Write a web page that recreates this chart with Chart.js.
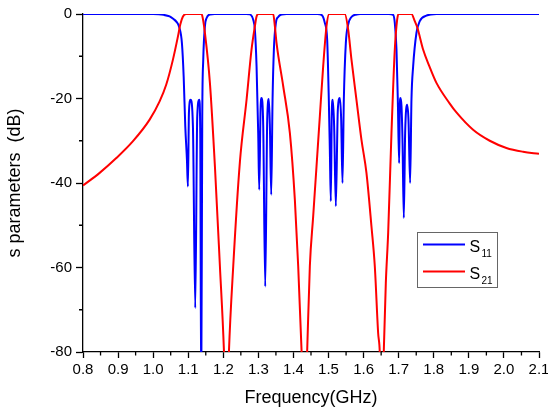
<!DOCTYPE html>
<html>
<head>
<meta charset="utf-8">
<script src="https://cdn.jsdelivr.net/npm/chart.js@4.4.0/dist/chart.umd.min.js"></script>
<style>
  html, body { margin: 0; padding: 0; background: #fff; }
  canvas { display: block; }
</style>
</head>
<body>
<canvas id="chart" width="548" height="411"></canvas>
<script>
// values: frequency in GHz, response in dB
var s11Freq = [0.80, 1.00, 1.03, 1.047, 1.058, 1.066, 1.075, 1.082, 1.087, 1.0916, 1.0963, 1.0991, 1.102, 1.1067, 1.1134, 1.1200, 1.1257, 1.1314, 1.1343, 1.137, 1.140, 1.1428, 1.1476, 1.1524, 1.1618, 1.175,
    1.265, 1.2758, 1.2853, 1.2900, 1.2948, 1.2995, 1.3024, 1.3062, 1.3090, 1.3138, 1.3195, 1.3252, 1.3299, 1.3328, 1.3366, 1.3404, 1.3442, 1.3499, 1.3565, 1.366, 1.38,
    1.468, 1.480, 1.4894, 1.4961, 1.5008, 1.5037, 1.5065, 1.5094, 1.5122, 1.516, 1.5208, 1.5265, 1.5322, 1.536, 1.5398, 1.5436, 1.5493, 1.556, 1.5654, 1.5796, 1.59,
    1.672, 1.6842, 1.6889, 1.6937, 1.6975, 1.7013, 1.7032, 1.7051, 1.708, 1.7108, 1.7146, 1.7184, 1.7241, 1.7279, 1.7326, 1.7364, 1.7412, 1.7506, 1.7601, 1.7791, 1.8076, 2.10];
var s11Db = [0, -0.02, -0.2, -0.57, -1.2, -1.8, -3.3, -6.9, -14.8, -26.6, -34.5, -40.8, -23.4, -20.3, -26.6, -69.6, -24.2, -20.3, -28.2, -92, -24.2, -10.8, -2.9, -0.95, -0.1, 0,
    0, -0.1, -1.35, -3.7, -12.4, -28.2, -41.6, -22.6, -19.9, -26.6, -64.5, -25.0, -20.1, -26.6, -42.8, -20.3, -8.4, -2.1, -0.7, -0.1, 0,
    0, -0.2, -2.1, -6.1, -20.3, -32.1, -44.3, -22.6, -20.3, -26.6, -45.5, -22.6, -19.9, -25.0, -40.0, -20.3, -6.9, -2.5, -0.7, -0.1, 0,
    0, -0.2, -2.1, -8.4, -20.3, -35.3, -21.8, -19.9, -21.8, -29.7, -48.3, -28.2, -21.5, -25.0, -40.0, -20.3, -12.4, -4.5, -1.7, -0.4, 0, 0];

var s21Freq = [0.80, 0.8475, 0.895, 0.9425, 0.99, 1.0184, 1.0374, 1.0564, 1.0707, 1.0773, 1.0849, 1.094, 1.138, 1.141, 1.1476, 1.1618, 1.1761, 1.1903, 1.2017, 1.209, 1.216, 1.2283, 1.2473, 1.2663, 1.2805, 1.29, 1.2948, 1.30,
    1.3423, 1.347, 1.3518, 1.3708, 1.3898, 1.404, 1.4135, 1.423, 1.431, 1.439, 1.4467, 1.4562, 1.4657, 1.4752, 1.4847, 1.4942, 1.5018,
    1.5464, 1.556, 1.5654, 1.5796, 1.5939, 1.6081, 1.6224, 1.6319, 1.6414, 1.646, 1.652, 1.6576, 1.6633, 1.67, 1.6794, 1.6889, 1.6956, 1.6994,
    1.7364, 1.7459, 1.7535, 1.7696, 1.7876, 1.8076, 1.8456, 1.8646, 1.9121, 1.9596, 2.007, 2.0545, 2.10];
var s21Db = [-40.6, -37.6, -34.1, -30.1, -25.0, -20.7, -16.7, -10.8, -5.3, -2.5, -0.6, 0, 0, -0.8, -4.5, -16.3, -36.1, -59.7, -79.5, -100, -80, -59.7, -35, -20.3, -8.4, -2.9, -0.6, 0,
    0, -2.9, -6.9, -17.1, -28.2, -44, -59.7, -79.5, -100, -80, -59.7, -47.9, -36.1, -24.2, -12.4, -2.9, 0,
    0, -3.7, -10.8, -20.3, -29.8, -37.6, -50.3, -59.7, -75.5, -80, -100, -79.5, -63.7, -51.8, -28.2, -8.4, -1.35, 0,
    0, -1.7, -3.3, -8.4, -12.4, -16.3, -21.2, -23.3, -27.4, -30.0, -31.7, -32.6, -33.1];

var legendMain = ['S', 'S'];
var legendSub = ['11', '21'];
var xMinorTicks = [0.85, 0.95, 1.05, 1.15, 1.25, 1.35, 1.45, 1.55, 1.65, 1.75, 1.85, 1.95, 2.05];
var yMinorTicks = [-10, -30, -50, -70];

var FONT = '"Liberation Sans", Arial, sans-serif';

function toPoints(xs, ys) {
    return xs.map(function(x, i) { return {x: x, y: ys[i]}; });
}

// minor tick marks and the boxed legend with subscripts
var extras = {
    id: 'extras',
    afterDraw: function(chart) {
        var ctx = chart.ctx;
        var xs = chart.scales.x, ys = chart.scales.y;
        ctx.save();
        ctx.strokeStyle = '#000';
        ctx.lineWidth = 1.3;
        ctx.beginPath();
        xMinorTicks.forEach(function(v) {
            var px = xs.getPixelForValue(v);
            ctx.moveTo(px, xs.top);
            ctx.lineTo(px, xs.top + 3.5);
        });
        yMinorTicks.forEach(function(v) {
            var py = ys.getPixelForValue(v);
            ctx.moveTo(ys.right, py);
            ctx.lineTo(ys.right - 4, py);
        });
        ctx.stroke();

        // legend
        ctx.strokeStyle = '#666';
        ctx.lineWidth = 1;
        ctx.strokeRect(417.5, 232.5, 80, 55);
        var colors = chart.data.datasets.map(function(d) { return d.borderColor; });
        var rows = [244.5, 271.5];
        for (var i = 0; i < 2; i++) {
            ctx.strokeStyle = colors[i];
            ctx.lineWidth = 2;
            ctx.beginPath();
            ctx.moveTo(423, rows[i]);
            ctx.lineTo(465, rows[i]);
            ctx.stroke();
            ctx.fillStyle = '#000';
            ctx.textBaseline = 'alphabetic';
            ctx.textAlign = 'left';
            ctx.font = '16px ' + FONT;
            ctx.fillText(legendMain[i], 469.5, rows[i] + 7.5);
            ctx.font = '10px ' + FONT;
            ctx.fillText(legendSub[i], 481.5, rows[i] + 12.5);
        }
        ctx.restore();
    }
};

var ctx = document.getElementById('chart').getContext('2d');
var chart = new Chart(ctx, {
    type: 'line',
    data: {
        datasets: [{
            label: 'S11',
            data: toPoints(s11Freq, s11Db),
            borderColor: '#0000ff',
            borderWidth: 2,
            pointRadius: 0,
            cubicInterpolationMode: 'monotone',
            clip: 0,
            order: 1
        }, {
            label: 'S21',
            data: toPoints(s21Freq, s21Db),
            borderColor: '#ff0000',
            borderWidth: 2,
            pointRadius: 0,
            cubicInterpolationMode: 'monotone',
            clip: 0,
            order: 0
        }]
    },
    options: {
        responsive: false,
        animation: false,
        devicePixelRatio: 1,
        layout: { padding: { top: 14, right: 9, left: 0, bottom: 0 } },
        plugins: {
            legend: { display: false },
            tooltip: { enabled: false }
        },
        scales: {
            x: {
                type: 'linear',
                min: 0.8,
                max: 2.1,
                grid: { display: true, drawOnChartArea: false, drawTicks: true, tickLength: 6, tickColor: '#000', tickWidth: 1.3 },
                border: { display: true, color: '#000', width: 1.3 },
                ticks: {
                    stepSize: 0.1,
                    autoSkip: false,
                    maxRotation: 0,
                    padding: 3,
                    color: '#000',
                    font: { family: FONT, size: 15 },
                    callback: function(v) { return Number(v).toFixed(1); }
                },
                title: {
                    display: true,
                    text: 'Frequency(GHz)',
                    color: '#000',
                    font: { family: FONT, size: 18 },
                    padding: { top: 0, bottom: 2 }
                },
                afterFit: function(scale) {
                    scale.height = 59;
                    scale.paddingLeft = 0;
                    scale.paddingRight = 0;
                }
            },
            y: {
                min: -80,
                max: 0,
                grid: { display: true, drawOnChartArea: false, drawTicks: true, tickLength: 7, tickColor: '#000', tickWidth: 1.3 },
                border: { display: true, color: '#000', width: 1.3 },
                ticks: {
                    stepSize: 20,
                    padding: 4,
                    color: '#000',
                    font: { family: FONT, size: 15 }
                },
                title: {
                    display: true,
                    text: 's parameters  (dB)',
                    color: '#000',
                    font: { family: FONT, size: 18 },
                    padding: { top: 4, bottom: 0 }
                },
                afterFit: function(scale) {
                    scale.width = 83;
                }
            }
        }
    },
    plugins: [extras]
});
</script>
</body>
</html>
